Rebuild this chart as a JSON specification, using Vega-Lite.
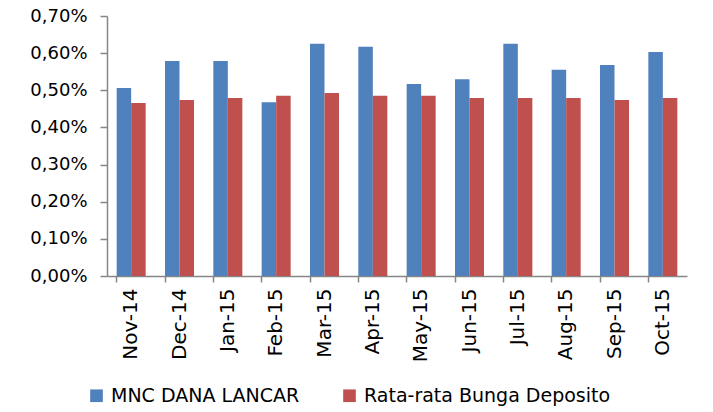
{
  "$schema": "https://vega.github.io/schema/vega-lite/v6.json",
  "width": 580,
  "height": 260,
  "autosize": {"type": "none"},
  "padding": {"left": 107, "top": 16, "right": 26, "bottom": 136},
  "background": "white",
  "data": {
    "values": [
      {"month": "Nov-14", "series": "MNC DANA LANCAR", "value": 0.00506},
      {"month": "Nov-14", "series": "Rata-rata Bunga Deposito", "value": 0.00466},
      {"month": "Dec-14", "series": "MNC DANA LANCAR", "value": 0.00579},
      {"month": "Dec-14", "series": "Rata-rata Bunga Deposito", "value": 0.00474},
      {"month": "Jan-15", "series": "MNC DANA LANCAR", "value": 0.00579},
      {"month": "Jan-15", "series": "Rata-rata Bunga Deposito", "value": 0.00479},
      {"month": "Feb-15", "series": "MNC DANA LANCAR", "value": 0.00468},
      {"month": "Feb-15", "series": "Rata-rata Bunga Deposito", "value": 0.00485},
      {"month": "Mar-15", "series": "MNC DANA LANCAR", "value": 0.00625},
      {"month": "Mar-15", "series": "Rata-rata Bunga Deposito", "value": 0.00493},
      {"month": "Apr-15", "series": "MNC DANA LANCAR", "value": 0.00617},
      {"month": "Apr-15", "series": "Rata-rata Bunga Deposito", "value": 0.00485},
      {"month": "May-15", "series": "MNC DANA LANCAR", "value": 0.00517},
      {"month": "May-15", "series": "Rata-rata Bunga Deposito", "value": 0.00485},
      {"month": "Jun-15", "series": "MNC DANA LANCAR", "value": 0.0053},
      {"month": "Jun-15", "series": "Rata-rata Bunga Deposito", "value": 0.00479},
      {"month": "Jul-15", "series": "MNC DANA LANCAR", "value": 0.00625},
      {"month": "Jul-15", "series": "Rata-rata Bunga Deposito", "value": 0.00479},
      {"month": "Aug-15", "series": "MNC DANA LANCAR", "value": 0.00555},
      {"month": "Aug-15", "series": "Rata-rata Bunga Deposito", "value": 0.00479},
      {"month": "Sep-15", "series": "MNC DANA LANCAR", "value": 0.00568},
      {"month": "Sep-15", "series": "Rata-rata Bunga Deposito", "value": 0.00474},
      {"month": "Oct-15", "series": "MNC DANA LANCAR", "value": 0.00603},
      {"month": "Oct-15", "series": "Rata-rata Bunga Deposito", "value": 0.00479}
    ]
  },
  "mark": {"type": "bar"},
  "encoding": {
    "x": {
      "field": "month",
      "type": "nominal",
      "sort": null,
      "scale": {"paddingInner": 0.4, "paddingOuter": 0.2},
      "axis": {
        "title": null,
        "labelAngle": -90,
        "labelFont": "DejaVu Sans",
        "labelFontSize": 20,
        "labelColor": "#000000",
        "labelPadding": 6,
        "domainColor": "#868686",
        "domainWidth": 1.5,
        "tickColor": "#868686",
        "tickWidth": 1.5,
        "tickSize": 6,
        "bandPosition": 0,
        "grid": false
      }
    },
    "xOffset": {"field": "series", "type": "nominal"},
    "y": {
      "field": "value",
      "type": "quantitative",
      "scale": {"domain": [0, 0.007], "nice": false},
      "axis": {
        "title": null,
        "values": [0, 0.001, 0.002, 0.003, 0.004, 0.005, 0.006, 0.007],
        "labelExpr": "replace(format(datum.value, '.2%'), '.', ',')",
        "labelFont": "DejaVu Sans",
        "labelFontSize": 18,
        "labelColor": "#000000",
        "labelPadding": 13,
        "domainColor": "#868686",
        "domainWidth": 1.5,
        "tickColor": "#868686",
        "tickWidth": 1.5,
        "tickSize": 7,
        "grid": false
      }
    },
    "color": {
      "field": "series",
      "type": "nominal",
      "scale": {"domain": ["MNC DANA LANCAR", "Rata-rata Bunga Deposito"], "range": ["#4F81BD", "#C0504D"]},
      "legend": {
        "title": null,
        "orient": "none",
        "direction": "horizontal",
        "legendX": -20,
        "legendY": 370,
        "symbolType": "square",
        "symbolSize": 160,
        "symbolStrokeWidth": 0,
        "labelFont": "DejaVu Sans",
        "labelFontSize": 19,
        "labelColor": "#000000",
        "labelLimit": 0,
        "columnPadding": 40,
        "labelOffset": 5
      }
    }
  },
  "config": {"view": {"stroke": null}}
}
